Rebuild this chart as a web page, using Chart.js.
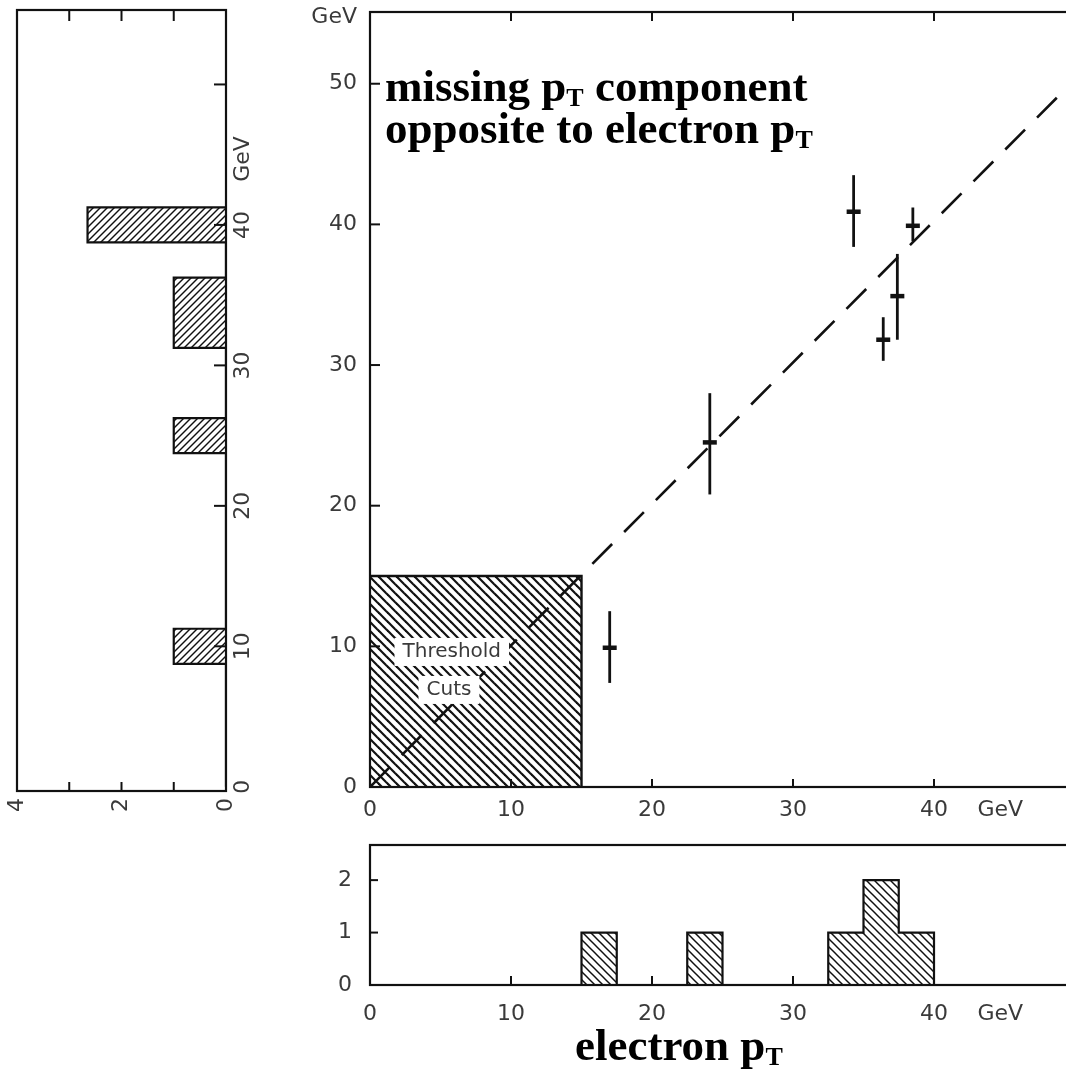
<!DOCTYPE html>
<html>
<head>
<meta charset="utf-8">
<title>Missing pT component vs electron pT</title>
<script src="https://cdn.jsdelivr.net/npm/chart.js@4.4.1/dist/chart.umd.min.js"></script>
<style>
  html, body { margin:0; padding:0; background:#fff; overflow:hidden; }
  #wrap { position:relative; width:1066px; height:1072px; overflow:hidden; background:#fff; }
  #wrap canvas { position:absolute; }
  .ttl { position:absolute; font-family:'Liberation Serif','Times New Roman',serif; font-weight:bold;
         font-size:45px; line-height:42px; color:#000; white-space:nowrap; }
  .ttl .sub { font-size:26px; line-height:0; position:relative; top:5px; }
</style>
</head>
<body>
<div id="wrap">
  <canvas id="cLeft" width="300" height="840" style="left:0;top:0"></canvas>
  <canvas id="cMain" width="1100" height="840" style="left:0;top:0"></canvas>
  <canvas id="cBottom" width="1100" height="242" style="left:0;top:830px"></canvas>
  <div class="ttl" style="left:385px;top:65px">missing p<span class="sub">T</span> component<br>opposite to electron p<span class="sub">T</span></div>
  <div class="ttl" style="left:575px;top:1024px">electron p<span class="sub">T</span></div>
</div>
<script>
// ---------------- data ----------------
const unitLabel = 'GeV';

// events: electron pT (x) vs missing pT component (y) with vertical errors
const electronPt  = [17.0, 24.1, 34.3, 36.4, 37.4, 38.5];
const missingPt   = [ 9.9, 24.5, 40.9, 31.8, 34.9, 39.9];
const missingPtLo = [ 7.4, 20.8, 38.4, 30.3, 31.8, 38.8];
const missingPtHi = [12.5, 28.0, 43.5, 33.4, 37.9, 41.2];

// dashed reference line
const fitX = [0, 50];
const fitY = [0, 50.3];

// threshold cuts (GeV) in both variables
const thresholdCut = 15;
const cutLabelText = ['Threshold', 'Cuts'];

// histogram of electron pT (bottom panel)
const ePtBinLo  = [15, 22.5, 32.5, 35, 37.5];
const ePtBinHi  = [17.5, 25, 35, 37.5, 40];
const ePtCounts = [1, 1, 1, 2, 1];

// histogram of missing pT component (left panel, rotated)
const missBinLo  = [8.75, 23.75, 31.25, 33.75, 38.75];
const missBinHi  = [11.25, 26.25, 33.75, 36.25, 41.25];
const missCounts = [1, 1, 1, 1, 2.65];

// tick labels
const gevTicksMain  = [0, 10, 20, 30, 40, 50];
const gevTicksLeft  = [0, 10, 20, 30, 40];
const gevTicksX     = [0, 10, 20, 30, 40];
const countTicksLeft = [0, 2, 4];
const countTicksBottom = [0, 1, 2];
const unitPosMainY = 54.7;
const unitPosX = 44.7;
const unitPosLeft = 44.7;

// ---------------- styling helpers ----------------
const INK = '#111';
const TICK_COLOR = '#3a3a3a';
const TICK_FONT = { family: "'DejaVu Sans', 'Liberation Sans', sans-serif", size: 22 };

function hatch(ctx, size, width, dir) {
  const t = document.createElement('canvas');
  t.width = size; t.height = size;
  const g = t.getContext('2d');
  g.strokeStyle = INK; g.lineWidth = width;
  for (let k = -1; k <= 1; k++) {
    g.beginPath();
    if (dir === '\\') { g.moveTo(k * size - 1, -1); g.lineTo(k * size + size + 1, size + 1); }
    else { g.moveTo(k * size - 1, size + 1); g.lineTo(k * size + size + 1, -1); }
    g.stroke();
  }
  return ctx.createPattern(t, 'repeat');
}

function noPad(s) { s.paddingTop = 0; s.paddingBottom = 0; s.paddingLeft = 0; s.paddingRight = 0; }

function framePlugin(name, marks) {
  return {
    id: 'frame' + name,
    afterDraw(chart) {
      const { ctx, chartArea: a } = chart;
      ctx.save();
      ctx.strokeStyle = INK; ctx.lineWidth = 2.2;
      ctx.strokeRect(a.left, a.top, a.right - a.left, a.bottom - a.top);
      ctx.lineWidth = 2;
      marks.forEach(m => {
        const sc = chart.scales[m.axis];
        m.values.forEach(v => {
          const p = sc.getPixelForValue(v);
          ctx.beginPath();
          if (m.side === 'top') { ctx.moveTo(p, a.top); ctx.lineTo(p, a.top + m.len); }
          else if (m.side === 'bottom') { ctx.moveTo(p, a.bottom); ctx.lineTo(p, a.bottom - m.len); }
          else if (m.side === 'left') { ctx.moveTo(a.left, p); ctx.lineTo(a.left + m.len, p); }
          else { ctx.moveTo(a.right, p); ctx.lineTo(a.right - m.len, p); }
          ctx.stroke();
        });
      });
      ctx.restore();
    }
  };
}

const errorBars = {
  id: 'errorBars',
  afterDatasetsDraw(chart) {
    const { ctx, scales: { x, y } } = chart;
    ctx.save();
    ctx.strokeStyle = INK; ctx.lineWidth = 2.8;
    electronPt.forEach((xv, i) => {
      const px = x.getPixelForValue(xv);
      ctx.beginPath();
      ctx.moveTo(px, y.getPixelForValue(missingPtLo[i]));
      ctx.lineTo(px, y.getPixelForValue(missingPtHi[i]));
      ctx.stroke();
    });
    ctx.restore();
  }
};

const cutLabelPos = [{ x: 5.8, y: 9.6 }, { x: 5.6, y: 6.9 }];
const thresholdLabel = {
  id: 'thresholdLabel',
  afterDatasetsDraw(chart) {
    const { ctx, scales: { x, y } } = chart;
    ctx.save();
    ctx.font = "20px 'DejaVu Sans', sans-serif";
    ctx.textAlign = 'center'; ctx.textBaseline = 'middle';
    cutLabelText.forEach((t, i) => {
      const px = x.getPixelForValue(cutLabelPos[i].x);
      const py = y.getPixelForValue(cutLabelPos[i].y);
      const w = ctx.measureText(t).width;
      ctx.fillStyle = '#fff';
      ctx.fillRect(px - w / 2 - 8, py - 14, w + 16, 28);
      ctx.fillStyle = TICK_COLOR;
      ctx.fillText(t, px, py);
    });
    ctx.restore();
  }
};

// ---------------- left panel: missing pT histogram (rotated) ----------------
const leftHistPts = [{ x: 0, y: 0 }];
missBinLo.forEach((lo, i) => {
  leftHistPts.push({ x: missCounts[i], y: lo });
  if (i === missBinLo.length - 1 || missBinLo[i + 1] !== missBinHi[i]) leftHistPts.push({ x: 0, y: missBinHi[i] });
});

const ctxL = document.getElementById('cLeft').getContext('2d');
new Chart(ctxL, {
  type: 'line',
  data: { datasets: [{
    data: leftHistPts, stepped: 'after', fill: 'origin',
    backgroundColor: hatch(ctxL, 7, 1.4, '/'),
    borderColor: INK, borderWidth: 2.2, pointRadius: 0
  }] },
  options: {
    indexAxis: 'y', responsive: false, animation: false, events: [],
    layout: { padding: { left: 17, top: 10, right: 0, bottom: 0 } },
    plugins: { legend: { display: false }, tooltip: { enabled: false } },
    scales: {
      x: {
        type: 'linear', reverse: true, min: 0, max: 4, position: 'bottom',
        grid: { display: false, drawTicks: false }, border: { display: false },
        afterBuildTicks: s => { s.ticks = countTicksLeft.map(v => ({ value: v })); },
        afterFit: s => { s.height = 49; noPad(s); },
        ticks: { autoSkip: false, minRotation: 90, maxRotation: 90, padding: 7, font: TICK_FONT, color: TICK_COLOR }
      },
      y: {
        type: 'linear', min: -0.3, max: 55.3, position: 'right',
        grid: { display: false, drawTicks: false }, border: { display: false },
        afterBuildTicks: s => { s.ticks = gevTicksLeft.map(v => ({ value: v })).concat([{ value: unitPosLeft }]); },
        afterFit: s => { s.width = 74; noPad(s); },
        ticks: { autoSkip: false, minRotation: 90, maxRotation: 90, crossAlign: 'center', padding: -6,
                 font: TICK_FONT, color: TICK_COLOR,
                 callback: v => (v === unitPosLeft ? unitLabel : v) }
      }
    }
  },
  plugins: [framePlugin('L', [
    { axis: 'x', side: 'top', values: [1, 2, 3], len: 11 },
    { axis: 'x', side: 'bottom', values: [1, 2, 3], len: 9 },
    { axis: 'y', side: 'right', values: [10, 20, 30, 40, 50], len: 12 }
  ])]
});

// ---------------- main panel: scatter ----------------
const ctxM = document.getElementById('cMain').getContext('2d');
new Chart(ctxM, {
  type: 'scatter',
  data: { datasets: [
    { type: 'scatter', data: electronPt.map((x, i) => ({ x, y: missingPt[i] })),
      pointStyle: 'line', pointRadius: 7, pointBorderWidth: 4.5, pointBorderColor: INK,
      borderColor: INK, backgroundColor: INK, order: 1 },
    { type: 'line', data: fitX.map((x, i) => ({ x, y: fitY[i] })),
      borderColor: INK, borderWidth: 2.6, borderDash: [28, 17], pointRadius: 0, fill: false, order: 2 },
    { type: 'line',
      data: [{ x: 0, y: thresholdCut }, { x: thresholdCut, y: thresholdCut }, { x: thresholdCut, y: 0 }],
      borderColor: INK, borderWidth: 2.4, backgroundColor: hatch(ctxM, 9, 2.2, '\\'),
      fill: 'origin', pointRadius: 0, order: 3 }
  ] },
  options: {
    responsive: false, animation: false, events: [],
    layout: { padding: { left: 0, top: 12, right: 25, bottom: 0 } },
    plugins: { legend: { display: false }, tooltip: { enabled: false } },
    scales: {
      x: {
        type: 'linear', min: 0, max: 50, position: 'bottom',
        grid: { display: false, drawTicks: false }, border: { display: false },
        afterBuildTicks: s => { s.ticks = gevTicksX.map(v => ({ value: v })).concat([{ value: unitPosX }]); },
        afterFit: s => { s.height = 53; noPad(s); },
        ticks: { autoSkip: false, minRotation: 0, maxRotation: 0, padding: 10, font: TICK_FONT, color: TICK_COLOR,
                 callback: v => (v === unitPosX ? unitLabel : v) }
      },
      y: {
        type: 'linear', min: 0, max: 55.1, position: 'left',
        grid: { display: false, drawTicks: false }, border: { display: false },
        afterBuildTicks: s => { s.ticks = gevTicksMain.map(v => ({ value: v })).concat([{ value: unitPosMainY }]); },
        afterFit: s => { s.width = 370; noPad(s); },
        ticks: { autoSkip: false, padding: 13, font: TICK_FONT, color: TICK_COLOR,
                 callback: v => (v === unitPosMainY ? unitLabel : v) }
      }
    }
  },
  plugins: [errorBars, thresholdLabel, framePlugin('M', [
    { axis: 'y', side: 'left', values: [10, 20, 30, 40, 50], len: 10 },
    { axis: 'x', side: 'top', values: [10, 20, 30, 40], len: 9 },
    { axis: 'x', side: 'bottom', values: [10, 20, 30, 40], len: 8 }
  ])]
});

// ---------------- bottom panel: electron pT histogram ----------------
const bottomHistPts = [{ x: 0, y: 0 }];
ePtBinLo.forEach((lo, i) => {
  bottomHistPts.push({ x: lo, y: ePtCounts[i] });
  if (i === ePtBinLo.length - 1 || ePtBinLo[i + 1] !== ePtBinHi[i]) bottomHistPts.push({ x: ePtBinHi[i], y: 0 });
});

const ctxB = document.getElementById('cBottom').getContext('2d');
new Chart(ctxB, {
  type: 'line',
  data: { datasets: [{
    data: bottomHistPts, stepped: 'before', fill: 'origin',
    backgroundColor: hatch(ctxB, 8, 1.5, '\\'),
    borderColor: INK, borderWidth: 2.2, pointRadius: 0
  }] },
  options: {
    responsive: false, animation: false, events: [],
    layout: { padding: { left: 0, top: 15, right: 25, bottom: 0 } },
    plugins: { legend: { display: false }, tooltip: { enabled: false } },
    scales: {
      x: {
        type: 'linear', min: 0, max: 50, position: 'bottom',
        grid: { display: false, drawTicks: false }, border: { display: false },
        afterBuildTicks: s => { s.ticks = gevTicksX.map(v => ({ value: v })).concat([{ value: unitPosX }]); },
        afterFit: s => { s.height = 87; noPad(s); },
        ticks: { autoSkip: false, minRotation: 0, maxRotation: 0, padding: 16, font: TICK_FONT, color: TICK_COLOR,
                 callback: v => (v === unitPosX ? unitLabel : v) }
      },
      y: {
        type: 'linear', min: 0, max: 2.67, position: 'left',
        grid: { display: false, drawTicks: false }, border: { display: false },
        afterBuildTicks: s => { s.ticks = countTicksBottom.map(v => ({ value: v })); },
        afterFit: s => { s.width = 370; noPad(s); },
        ticks: { autoSkip: false, padding: 18, font: TICK_FONT, color: TICK_COLOR }
      }
    }
  },
  plugins: [framePlugin('B', [
    { axis: 'y', side: 'left', values: [1, 2], len: 8 },
    { axis: 'x', side: 'bottom', values: [10, 20, 30, 40], len: 9 }
  ])]
});
</script>
</body>
</html>
